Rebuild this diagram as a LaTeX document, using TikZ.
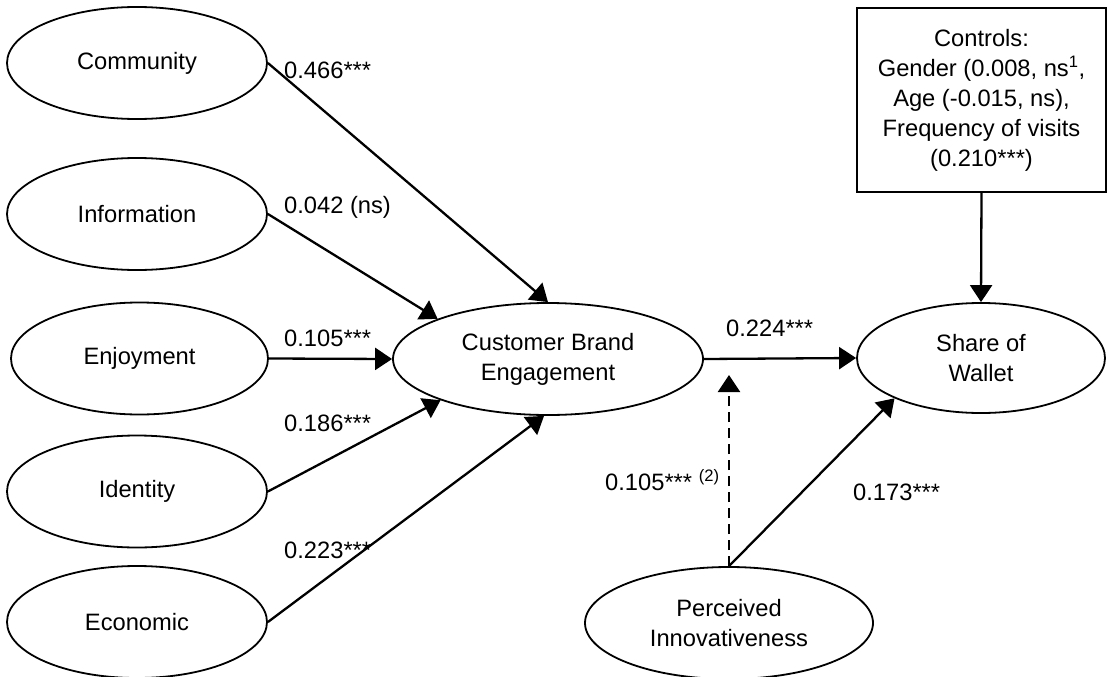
\documentclass[tikz,border=0pt]{standalone}
\usepackage{fontspec}
\setmainfont{Liberation Sans}
\usetikzlibrary{shapes.geometric,arrows.meta}
\begin{document}
\begin{tikzpicture}[x=1pt,y=-1pt,
  every node/.style={font=\fontsize{23.7}{30}\selectfont},
  construct/.style={ellipse,draw,line width=1.8pt,inner sep=0pt,align=center,
     minimum width=260pt,minimum height=112pt},
  ctrlbox/.style={rectangle,draw,line width=1.8pt,align=center,inner sep=0pt,
     minimum width=249pt,minimum height=184pt},
  path/.style={line width=2.3pt,-{Triangle[length=17pt,width=22pt]}},
  modpath/.style={path,dash pattern=on 10pt off 6pt},
  coef/.style={anchor=base west,inner sep=0pt}
]
\useasboundingbox (0,0) rectangle (1108,677);
% constructs
\node[construct] (com) at (137,63) {Community};
\node[construct] (inf) at (137,214) {Information};
\node[construct,minimum width=257pt] (enj) at (139.5,358.5) {Enjoyment};
\node[construct] (ide) at (137,491.5) {Identity};
\node[construct] (eco) at (137,622) {Economic};
\node[construct,minimum width=310pt] (cbe) at (548,359) {Customer Brand\\Engagement};
\node[construct,minimum width=248pt,minimum height=110pt] (sow) at (981,358) {Share of\\Wallet};
\node[construct,minimum width=288pt] (pin) at (729,623) {Perceived\\Innovativeness};
\node[ctrlbox] (ctl) at (981.5,100) {Controls:\\Gender (0.008, ns\textsuperscript{1},\\Age (-0.015, ns),\\Frequency of visits\\(0.210***)};
\coordinate (mod) at (729,375);
% paths
\draw[path] (com.east) -- (cbe.north);
\draw[path] (inf.east) -- (cbe.160.6);
\draw[path] (enj.east) -- (cbe.west);
\draw[path] (ide.east) -- (cbe.201);
\draw[path] (eco.east) -- (cbe.266);
\draw[path] (cbe.east) -- (sow.west);
\draw[path] (ctl.south) -- (sow.north);
\draw[path] (pin.north) -- (sow.205);
\draw[modpath] (pin.north) -- (mod);
% coefficients
\node[coef] (c1) at (284,78.5) {0.466***};
\node[coef] (c2) at (284,213.5) {0.042 (ns)};
\node[coef] (c3) at (284,346.5) {0.105***};
\node[coef] (c4) at (284,431.5) {0.186***};
\node[coef] (c5) at (284,558.5) {0.223***};
\node[coef] (c6) at (726,336.5) {0.224***};
\node[coef] (c7) at (605,490.5) {0.105*** \textsuperscript{(2)}};
\node[coef] (c8) at (853,500.5) {0.173***};
\end{tikzpicture}
\end{document}
